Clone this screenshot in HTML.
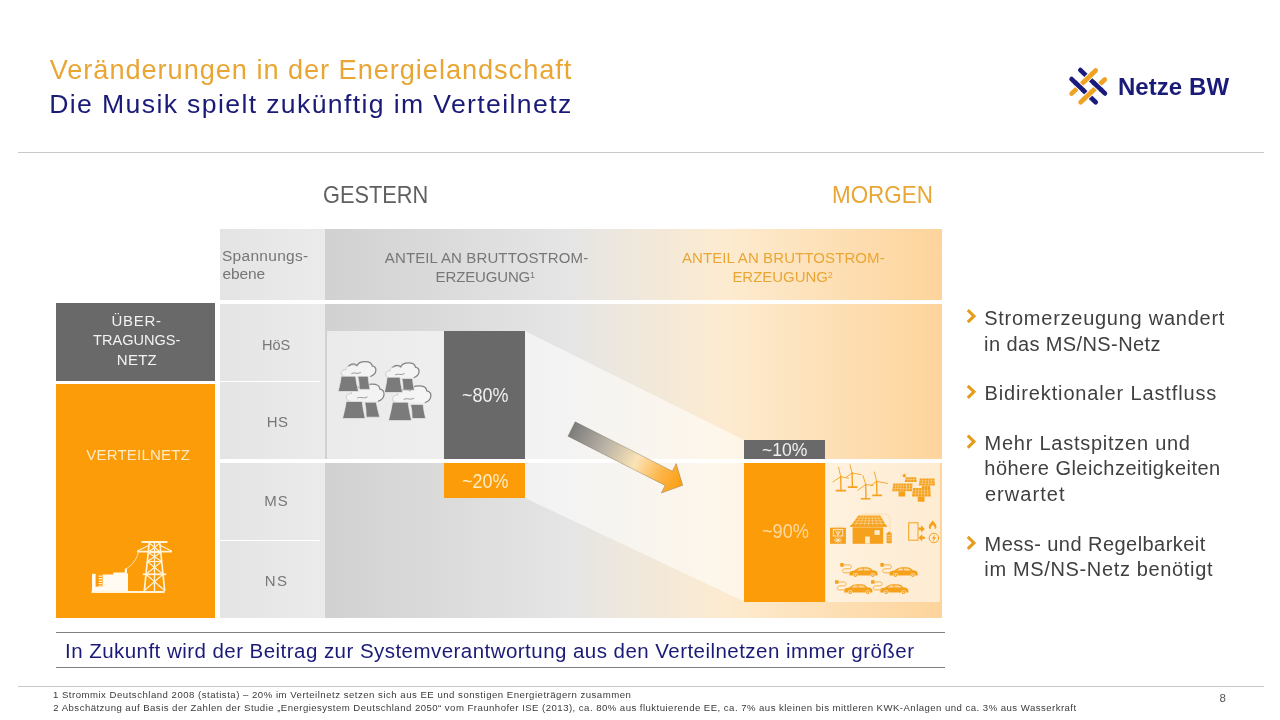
<!DOCTYPE html>
<html lang="de">
<head>
<meta charset="utf-8">
<title>Veränderungen in der Energielandschaft</title>
<style>
html,body{margin:0;padding:0;background:#fff;}
body{width:1280px;height:720px;overflow:hidden;font-family:"Liberation Sans",sans-serif;}
.slide{position:relative;width:1280px;height:720px;background:#fff;overflow:hidden;}
.slide>*{position:absolute;}
.t{white-space:nowrap;margin:0;padding:0;}
.t sup{font-size:.6em;line-height:0;vertical-align:baseline;position:relative;top:-.48em;letter-spacing:0;}
.pc{transform-origin:0 50%;}
.rule{height:1px;background:#c9c9c9;left:18px;width:1246px;}
.grad{background:linear-gradient(to right,#d1d1d1 0%,#e5e5e5 39%,#fdebd0 65%,#fdd49b 100%);}
.lvl{background:linear-gradient(to right,#e4e4e4,#ebebeb);}
.dark{background:#696969;}
.org{background:#FC9C08;}
.veil{background:rgba(255,255,255,.55);}
.wl{background:#fff;}
.sline{height:1px;background:#808080;left:56px;width:888.5px;}
svg{overflow:visible;}

</style>
</head>
<body>
<div class="slide">
<div class="rule" style="top:152px"></div>
<div class="rule" style="top:685.5px"></div>

<!-- header row -->
<div class="lvl" style="left:220px;top:229px;width:105px;height:70.5px"></div>
<div class="grad" style="left:325px;top:229px;width:617px;height:70.5px"></div>

<!-- body rows -->
<div class="lvl" style="left:220px;top:304px;width:105px;height:314px"></div>
<div class="grad" style="left:325px;top:304px;width:617px;height:313.5px"></div>

<!-- light veils -->
<div class="veil" style="left:327px;top:331px;width:198px;height:127.5px"></div>
<svg width="1280" height="720" viewBox="0 0 1280 720" style="left:0;top:0">
  <polygon points="525,331 744,440 744,601.5 525,498" fill="rgba(255,255,255,.55)"/>
</svg>
<div class="veil" style="left:825.5px;top:462.5px;width:114.5px;height:139px"></div>

<!-- row separators -->
<div class="wl" style="left:220px;top:381px;width:100px;height:1px"></div>
<div class="wl" style="left:220px;top:458.6px;width:722px;height:4.2px"></div>
<div class="wl" style="left:220px;top:540px;width:100px;height:1px"></div>

<!-- bars -->
<div class="dark" style="left:444px;top:331px;width:81px;height:127.6px"></div>
<div class="org" style="left:444px;top:463px;width:81px;height:35px"></div>
<div class="dark" style="left:744px;top:440px;width:80.75px;height:18.6px"></div>
<div class="org" style="left:744px;top:462.6px;width:80.5px;height:139px"></div>

<!-- left boxes -->
<div class="dark" style="left:56px;top:303px;width:158.75px;height:77.5px"></div>
<div class="org" style="left:56px;top:383.75px;width:158.75px;height:234.25px"></div>

<!-- statement lines -->
<div class="sline" style="top:632px"></div>
<div class="sline" style="top:667px"></div>

<!-- bullet chevrons -->
<svg width="1280" height="720" viewBox="0 0 1280 720" style="left:0;top:0">
  <g fill="none" stroke="#E39C1C" stroke-width="3" stroke-linejoin="miter">
    <polyline points="967.8,310.2 974,316.2 967.8,322.2"/>
    <polyline points="967.8,385.8 974,391.8 967.8,397.8"/>
    <polyline points="967.8,435.6 974,441.6 967.8,447.6"/>
    <polyline points="967.8,536.9 974,542.9 967.8,548.9"/>
  </g>
</svg>

<!-- logo mark -->
<svg width="1280" height="720" viewBox="0 0 1280 720" style="left:0;top:0">
  <g fill="none" stroke-width="4.7" stroke-linecap="round">
    <line x1="1080.4" y1="70.1" x2="1104.9" y2="93.4" stroke="#1A1A7E"/>
    <line x1="1071.6" y1="79.1" x2="1095.7" y2="102.2" stroke="#1A1A7E"/>
    <line x1="1095.7" y1="70.5" x2="1071.6" y2="93.6" stroke="#EFA325"/>
    <line x1="1104.8" y1="79.5" x2="1080.6" y2="102.2" stroke="#EFA325"/>
  </g>
  <g fill="none" stroke-linecap="butt">
    <!-- top: orange A over -->
    <line x1="1091.3" y1="74.7" x2="1085.3" y2="80.5" stroke="#fff" stroke-width="6.6"/>
    <line x1="1092.6" y1="73.5" x2="1084" y2="81.7" stroke="#EFA325" stroke-width="4.7"/>
    <!-- right: navy1 over -->
    <line x1="1094.5" y1="83.5" x2="1100.5" y2="89.2" stroke="#fff" stroke-width="6.6"/>
    <line x1="1093.2" y1="82.3" x2="1101.8" y2="90.4" stroke="#1A1A7E" stroke-width="4.7"/>
    <!-- left: navy2 over -->
    <line x1="1076.2" y1="83.5" x2="1082.2" y2="89.2" stroke="#fff" stroke-width="6.6"/>
    <line x1="1074.9" y1="82.3" x2="1083.5" y2="90.4" stroke="#1A1A7E" stroke-width="4.7"/>
    <!-- bottom: orange B over -->
    <line x1="1091.2" y1="92.2" x2="1085.2" y2="97.9" stroke="#fff" stroke-width="6.6"/>
    <line x1="1092.5" y1="91" x2="1083.9" y2="99.1" stroke="#EFA325" stroke-width="4.7"/>
  </g>
</svg>

<!-- transition arrow -->
<svg width="1280" height="720" viewBox="0 0 1280 720" style="left:0;top:0">
  <defs>
    <linearGradient id="ag" x1="0" y1="0" x2="124.6" y2="0" gradientUnits="userSpaceOnUse">
      <stop offset="0" stop-color="#7c7c7c"/>
      <stop offset=".3" stop-color="#b9b2a6"/>
      <stop offset=".58" stop-color="#fbe3b6"/>
      <stop offset=".8" stop-color="#fdb548"/>
      <stop offset="1" stop-color="#fb9d0e"/>
    </linearGradient>
  </defs>
  <g transform="translate(571.6 429) rotate(26.9)">
    <polygon points="0,-8 108.9,-8 108.9,-16.5 124.6,0 108.9,16.5 108.9,8 0,8" fill="url(#ag)" stroke="rgba(110,95,70,.45)" stroke-width=".7"/>
  </g>
</svg>
<!-- conventional power plants -->
<svg width="1280" height="720" viewBox="0 0 1280 720" style="left:0;top:0">
<g>
<path d="M350.0,401.2 C344.8,401.2 344.8,392.7 351.5,393.6 C350.8,389.1 357.5,386.2 363.5,388.7 C365.8,382.7 379.2,382.3 380.0,389.1 C385.6,390.2 385.6,398.4 378.5,401.2Z" fill="rgba(255,255,255,.4)"/><path d="M350.0,401.2 C344.8,401.2 344.8,392.7 351.5,393.6 C350.8,389.1 357.5,386.2 362.8,389.1" fill="none" stroke="#c4c4c4" stroke-width=".8" stroke-linecap="round"/><path d="M354.5,389.1 C357.5,386.2 361.2,386.6 363.5,388.7 C365.8,382.7 379.2,382.3 380.0,389.1 C385.6,390.2 385.6,398.4 378.5,401.2" fill="none" stroke="#858585" stroke-width="1.3" stroke-linecap="round"/><path d="M357.5,398.0 C360.5,395.9 363.5,399.5 367.2,397.0" fill="none" stroke="#8f8f8f" stroke-width=".9" stroke-linecap="round"/>
<g fill="#7b7b7b" stroke="#ececec" stroke-width=".7">
<path d="M364.8,402.2 L376.2,402.2 Q377.3,408.2 379.8,417.2 L366.2,417.2 Q366.2,408.2 364.8,402.2Z"/>
<path d="M346.2,401.5 L362.2,401.5 Q362.8,408.3 365.2,418.5 L342.5,418.5 Q345.3,408.3 346.2,401.5Z"/>
</g></g>
<g>
<path d="M396.3,402.5 C391.0,402.5 391.0,394.2 397.8,395.1 C397.1,390.8 403.9,388.0 410.0,390.4 C412.3,384.6 426.0,384.2 426.8,390.8 C432.5,391.8 432.5,399.7 425.3,402.5Z" fill="rgba(255,255,255,.4)"/><path d="M396.3,402.5 C391.0,402.5 391.0,394.2 397.8,395.1 C397.1,390.8 403.9,388.0 409.3,390.8" fill="none" stroke="#c4c4c4" stroke-width=".8" stroke-linecap="round"/><path d="M400.9,390.8 C403.9,388.0 407.7,388.4 410.0,390.4 C412.3,384.6 426.0,384.2 426.8,390.8 C432.5,391.8 432.5,399.7 425.3,402.5" fill="none" stroke="#858585" stroke-width="1.3" stroke-linecap="round"/><path d="M403.9,399.4 C407.0,397.3 410.0,400.7 413.8,398.3" fill="none" stroke="#8f8f8f" stroke-width=".9" stroke-linecap="round"/>
<g fill="#7b7b7b" stroke="#ececec" stroke-width=".7">
<path d="M410.6,404.4 L423.1,404.4 Q423.6,410.0 425.6,418.5 L412.1,418.5 Q412.1,410.0 410.6,404.4Z"/>
<path d="M392.5,402.2 L408.1,402.2 Q408.9,409.6 411.6,420.6 L388.5,420.6 Q391.4,409.6 392.5,402.2Z"/>
</g></g>
<g>
<path d="M344.7,376.3 C339.9,376.3 339.9,368.9 346.1,369.7 C345.4,365.9 351.6,363.4 357.1,365.5 C359.1,360.3 371.5,360.0 372.2,365.9 C377.3,366.8 377.3,373.8 370.8,376.3Z" fill="rgba(255,255,255,.4)"/><path d="M344.7,376.3 C339.9,376.3 339.9,368.9 346.1,369.7 C345.4,365.9 351.6,363.4 356.4,365.9" fill="none" stroke="#c4c4c4" stroke-width=".8" stroke-linecap="round"/><path d="M348.8,365.9 C351.6,363.4 355.0,363.7 357.1,365.5 C359.1,360.3 371.5,360.0 372.2,365.9 C377.3,366.8 377.3,373.8 370.8,376.3" fill="none" stroke="#858585" stroke-width="1.3" stroke-linecap="round"/><path d="M351.6,373.5 C354.3,371.7 357.1,374.8 360.5,372.6" fill="none" stroke="#8f8f8f" stroke-width=".9" stroke-linecap="round"/>
<g fill="#7b7b7b" stroke="#ececec" stroke-width=".7">
<path d="M357.8,376.2 L368.1,376.2 Q368.4,381.5 370.0,389.4 L359.4,389.4 Q359.2,381.5 357.8,376.2Z"/>
<path d="M341.2,376.2 L355.6,376.2 Q356.2,382.4 358.5,391.5 L338.1,391.5 Q340.5,382.4 341.2,376.2Z"/>
</g></g>
<g>
<path d="M388.9,377.5 C384.3,377.5 384.3,370.1 390.2,370.9 C389.6,367.1 395.5,364.6 400.8,366.8 C402.8,361.6 414.8,361.3 415.4,367.1 C420.4,368.0 420.4,375.0 414.1,377.5Z" fill="rgba(255,255,255,.4)"/><path d="M388.9,377.5 C384.3,377.5 384.3,370.1 390.2,370.9 C389.6,367.1 395.5,364.6 400.2,367.1" fill="none" stroke="#c4c4c4" stroke-width=".8" stroke-linecap="round"/><path d="M392.9,367.1 C395.5,364.6 398.9,364.9 400.8,366.8 C402.8,361.6 414.8,361.3 415.4,367.1 C420.4,368.0 420.4,375.0 414.1,377.5" fill="none" stroke="#858585" stroke-width="1.3" stroke-linecap="round"/><path d="M395.5,374.7 C398.2,372.9 400.8,376.0 404.2,373.8" fill="none" stroke="#8f8f8f" stroke-width=".9" stroke-linecap="round"/>
<g fill="#7b7b7b" stroke="#ececec" stroke-width=".7">
<path d="M401.9,378.5 L412.5,378.5 Q412.8,383.2 414.4,390.2 L403.1,390.2 Q403.1,383.2 401.9,378.5Z"/>
<path d="M387.1,377.2 L400.0,377.2 Q400.5,383.4 402.5,392.5 L384.4,392.5 Q386.5,383.4 387.1,377.2Z"/>
</g></g>
</svg>
<!-- grid icon: transformer station and pylon -->
<svg width="1280" height="720" viewBox="0 0 1280 720" style="left:0;top:0">
<g fill="none" stroke="#FFF3D9" stroke-linecap="butt">
<line x1="91.5" y1="592" x2="164.6" y2="592" stroke-width="2"/>
<g stroke-width="1.7">
<line x1="149.4" y1="541" x2="144.3" y2="591"/>
<line x1="159.6" y1="541" x2="164.7" y2="591"/>
<line x1="154.5" y1="543" x2="154.5" y2="591" stroke-width="1.3"/>
</g>
<line x1="141.5" y1="542" x2="167.5" y2="542" stroke-width="2"/>
<line x1="137" y1="551.7" x2="172" y2="551.7" stroke-width="1.8"/>
<polyline points="137.5,551 148.6,545.5" stroke-width="1.2"/>
<polyline points="171.5,551 160.4,545.5" stroke-width="1.2"/>
<line x1="142.8" y1="574.3" x2="166.2" y2="574.3" stroke-width="1.8"/>
<g stroke-width="1.15">
<line x1="149.2" y1="543" x2="160.8" y2="552.5"/><line x1="159.8" y1="543" x2="148.2" y2="552.5"/>
<line x1="148.2" y1="552.5" x2="161.7" y2="561.5"/><line x1="160.8" y1="552.5" x2="147.3" y2="561.5"/>
<line x1="147.3" y1="561.5" x2="163.0" y2="574.3"/><line x1="161.7" y1="561.5" x2="146.0" y2="574.3"/>
<line x1="146.0" y1="574.3" x2="164.6" y2="590.5"/><line x1="163.0" y1="574.3" x2="144.4" y2="590.5"/>
<line x1="148.2" y1="552.5" x2="160.8" y2="552.5"/>
<line x1="147.3" y1="561.5" x2="161.7" y2="561.5"/>
</g>
<path d="M126.3,568.8 C132,565 136.5,560 138.3,552.4" stroke-width=".8"/>
</g>
<g fill="#FFFBF2">
<rect x="92" y="573.8" width="3.6" height="17.4"/>
<rect x="92" y="586.6" width="12" height="4.6"/>
<path d="M102.6,574.6 L113.2,574.6 L113.2,572.4 L124.8,572.4 L124.8,568.6 L126.9,568.6 L126.9,573.6 L128,573.6 L128,591.2 L102.6,591.2Z"/>
<rect x="98.6" y="575.6" width="3.4" height="1.1"/>
<rect x="98.6" y="578.1" width="3.4" height="1.1"/>
<rect x="98.6" y="580.6" width="3.4" height="1.1"/>
<rect x="98.6" y="583.1" width="3.4" height="1.1"/>
<rect x="98.6" y="585.6" width="3.4" height="1.1"/>
</g>
</svg>
<!-- renewable / decentral generation icons -->
<svg width="1280" height="720" viewBox="0 0 1280 720" style="left:0;top:0">
<g stroke="#F5A11C" fill="none" stroke-linecap="round">
<line x1="840.7" y1="476.7" x2="841.0" y2="490.7" stroke-width="1.35"/>
<line x1="836.5" y1="490.7" x2="845.4" y2="490.7" stroke-width="1.7"/>
<line x1="840.7" y1="476.7" x2="838.6" y2="467.3" stroke-width=".9"/>
<line x1="840.7" y1="476.7" x2="848.5" y2="478.2" stroke-width=".9"/>
<line x1="840.7" y1="476.7" x2="832.9" y2="481.9" stroke-width=".9"/>
<line x1="852.1" y1="473.0" x2="852.4" y2="487.1" stroke-width="1.35"/>
<line x1="848.5" y1="487.1" x2="856.8" y2="487.1" stroke-width="1.7"/>
<line x1="852.1" y1="473.0" x2="850.0" y2="464.7" stroke-width=".9"/>
<line x1="852.1" y1="473.0" x2="861.0" y2="474.6" stroke-width=".9"/>
<line x1="852.1" y1="473.0" x2="846.4" y2="477.2" stroke-width=".9"/>
<line x1="865.7" y1="484.5" x2="866.0" y2="498.75" stroke-width="1.35"/>
<line x1="861.5" y1="498.75" x2="869.8" y2="498.75" stroke-width="1.7"/>
<line x1="865.7" y1="484.5" x2="863.0" y2="475.6" stroke-width=".9"/>
<line x1="865.7" y1="484.5" x2="873.0" y2="485.5" stroke-width=".9"/>
<line x1="865.7" y1="484.5" x2="857.9" y2="490.2" stroke-width=".9"/>
<line x1="876.6" y1="481.4" x2="876.9" y2="495.4" stroke-width="1.35"/>
<line x1="873.0" y1="495.4" x2="881.3" y2="495.4" stroke-width="1.7"/>
<line x1="876.6" y1="481.4" x2="874.5" y2="472.0" stroke-width=".9"/>
<line x1="876.6" y1="481.4" x2="887.5" y2="483.4" stroke-width=".9"/>
<line x1="876.6" y1="481.4" x2="870.9" y2="485.5" stroke-width=".9"/>
</g>
<g>
<circle cx="904.3" cy="475.7" r="1.6" fill="#F5A11C"/>
<path d="M904.3,472.9 V473.6 M901.6,475.7 H902.3 M902.3,473.7 L902.8,474.2 M906.3,473.7 L905.8,474.2" stroke="#F5A11C" stroke-width=".5" fill="none"/>
<polygon points="905.8,477.2 916.2,477.2 916.7,481.9 904.7,481.9" fill="#F5A11C"/><path d="M908.4,477.2L907.7,481.9M911.0,477.2L910.7,481.9M913.6,477.2L913.7,481.9M905.2,479.5L916.5,479.5" stroke="#FDEBD0" stroke-width=".45" fill="none" opacity=".8"/>
<polygon points="919.8,478.5 934.4,478.5 934.9,485.5 918.8,485.5" fill="#F5A11C"/><path d="M922.7,478.5L922.0,485.5M925.6,478.5L925.2,485.5M928.6,478.5L928.5,485.5M931.5,478.5L931.7,485.5M919.5,480.8L934.6,480.8M919.1,483.2L934.7,483.2" stroke="#FDEBD0" stroke-width=".45" fill="none" opacity=".8"/>
<polygon points="922.4,485.5 929.7,485.5 930.3,488.1 921.4,488.1" fill="#F5A11C"/><path d="M924.8,485.5L924.4,488.1M927.3,485.5L927.3,488.1" stroke="#FDEBD0" stroke-width=".45" fill="none" opacity=".8"/>
<polygon points="893.3,483.4 906.3,483.4 905.8,491.3 892.2,491.3" fill="#F5A11C"/><path d="M895.9,483.4L894.9,491.3M898.5,483.4L897.6,491.3M901.1,483.4L900.4,491.3M903.7,483.4L903.1,491.3M892.9,486.0L906.1,486.0M892.6,488.7L906.0,488.7" stroke="#FDEBD0" stroke-width=".45" fill="none" opacity=".8"/><rect x="898.5" y="491.3" width="6.75" height="5.2" fill="#F5A11C"/>
<polygon points="906.8,483.4 912.5,483.4 912.0,491.3 906.3,491.3" fill="#F5A11C"/><path d="M909.6,483.4L909.1,491.3M906.6,486.0L912.3,486.0M906.5,488.7L912.2,488.7" stroke="#FDEBD0" stroke-width=".45" fill="none" opacity=".8"/>
<polygon points="913.1,488.1 930.25,488.1 930.8,496.5 912.0,496.5" fill="#F5A11C"/><path d="M916.0,488.1L915.1,496.5M918.8,488.1L918.3,496.5M921.7,488.1L921.4,496.5M924.5,488.1L924.5,496.5M927.4,488.1L927.7,496.5M912.7,490.9L930.4,490.9M912.4,493.7L930.6,493.7" stroke="#FDEBD0" stroke-width=".45" fill="none" opacity=".8"/><rect x="917.75" y="496.5" width="6.75" height="5.2" fill="#F5A11C"/>
</g>
<g><rect x="830" y="527.6" width="15.9" height="16.2" fill="#F5A11C"/>
<path d="M829.6,527.4 Q838,524.6 846.3,527.4" stroke="#FDEBD0" stroke-width="1" fill="none" opacity=".7"/>
<g stroke="#FDEBD0" stroke-width=".9" fill="none"><rect x="833.3" y="529.4" width="9.4" height="6.6"/><path d="M835.5,530.5 L838,535 L840.5,530.5 M838,530.5 V535"/><path d="M834,540.2 H842 M838,537.4 V543 M835.4,538 L840.6,542.4 M840.6,538 L835.4,542.4"/></g></g>
<g>
<polygon points="858.4,515.6 880.3,515.6 886.5,526 850.6,526" fill="#F5A11C"/>
<path d="M861.1,515.6L855.1,526M863.9,515.6L859.6,526M866.6,515.6L864.1,526M869.3,515.6L868.5,526M872.1,515.6L873.0,526M874.8,515.6L877.5,526M877.6,515.6L882.0,526M856.4,518.2L881.8,518.2M854.5,520.8L883.4,520.8M852.5,523.4L884.9,523.4" stroke="#FDEBD0" stroke-width=".5" fill="none" opacity=".85"/>
<rect x="850" y="525.6" width="37" height="1.3" fill="#F5A11C"/>
<rect x="852.6" y="527.3" width="30.6" height="16.5" fill="#F5A11C"/>
<rect x="874.5" y="530.2" width="5.2" height="4.7" fill="#FDEBD0"/>
<rect x="865.1" y="536.5" width="4.7" height="7.1" fill="#FDEBD0"/>
<path d="M866,512.5 L866,514.5 M862,514 H884 Q890,514 890,520 V532" stroke="#F5A11C" stroke-width=".6" fill="none" opacity=".3"/>
</g>
<g><rect x="886.6" y="532.8" width="5.1" height="10.4" rx=".8" fill="#F5A11C"/><rect x="888" y="531.8" width="2.3" height="1.2" fill="#F5A11C"/>
<path d="M887.4,535.4 H890.9 M887.4,537.7 H890.9 M887.4,540 H890.9" stroke="#FDEBD0" stroke-width=".7" opacity=".8"/></g>
<g><rect x="908.7" y="522.8" width="9.3" height="17.4" fill="none" stroke="#F5A11C" stroke-width="1"/>
<path d="M918.6,527.6 h2.6 v-2.4 l3.6,3.7 l-3.6,3.7 v-2.4 h-2.6z" fill="#F5A11C"/>
<path d="M924.8,536.4 h-2.6 v-2.4 l-3.6,3.7 l3.6,3.7 v-2.4 h2.6z" fill="#F5A11C"/></g>
<g><path d="M932.6,520.3 C934.5,523 936.8,524.6 936.4,527 C936.2,528.4 935.3,529.1 934.6,529.2 C935.2,527.6 934.2,526.2 932.8,524.8 C931.6,526.2 930.3,527.4 930.8,529.2 C929.8,529 928.7,528 928.8,526.4 C929,524 931.4,522.8 932.6,520.3Z" fill="#F5A11C"/>
<circle cx="933.9" cy="538" r="4.7" fill="none" stroke="#F5A11C" stroke-width="1"/>
<path d="M934.9,534.4 L931.7,538.6 H933.7 L932.9,541.8 L936.2,537.3 H934.2Z" fill="#F5A11C"/></g>
<g>
<g transform="translate(849.5 567.2)"><path d="M0,8.2 V5.6 C0,4.3 1.6,3.8 4.6,3.3 L8.6,0.8 C9.8,0.2 11.5,0 13.5,0 H17.5 C19.6,0 21,0.9 22.8,2.9 C26,3.2 28.1,4.3 28.1,6.2 V8.2 H25.6 A2.3,2.3 0 0 0 21,8.2 H8.2 A2.3,2.3 0 0 0 3.6,8.2Z" fill="#F5A11C"/><circle cx="5.9" cy="8.1" r="1.7" fill="#F5A11C"/><circle cx="23.3" cy="8.1" r="1.7" fill="#F5A11C"/><circle cx="5.9" cy="8.1" r=".7" fill="#FDEBD0"/><circle cx="23.3" cy="8.1" r=".7" fill="#FDEBD0"/><path d="M7.2,3.3 L10,1.2 H13.2 V3.3Z M14.2,1.2 H17.6 C19,1.2 20.2,2 21.2,3.3 H14.2Z" fill="#FDEBD0" opacity=".75"/><path d="M-5.6,-2.3 H-0.6 C2.6,-2.3 2.6,1.6 -0.4,1.6 H-4.6 C-7.8,1.6 -7.8,5.6 -4.6,5.6 H0.2" fill="none" stroke="#F5A11C" stroke-width=".8"/><rect x="-9.3" y="-4.1" width="3.6" height="3.6" rx=".6" fill="#F5A11C"/></g>
<g transform="translate(889.6 567.2)"><path d="M0,8.2 V5.6 C0,4.3 1.6,3.8 4.6,3.3 L8.6,0.8 C9.8,0.2 11.5,0 13.5,0 H17.5 C19.6,0 21,0.9 22.8,2.9 C26,3.2 28.1,4.3 28.1,6.2 V8.2 H25.6 A2.3,2.3 0 0 0 21,8.2 H8.2 A2.3,2.3 0 0 0 3.6,8.2Z" fill="#F5A11C"/><circle cx="5.9" cy="8.1" r="1.7" fill="#F5A11C"/><circle cx="23.3" cy="8.1" r="1.7" fill="#F5A11C"/><circle cx="5.9" cy="8.1" r=".7" fill="#FDEBD0"/><circle cx="23.3" cy="8.1" r=".7" fill="#FDEBD0"/><path d="M7.2,3.3 L10,1.2 H13.2 V3.3Z M14.2,1.2 H17.6 C19,1.2 20.2,2 21.2,3.3 H14.2Z" fill="#FDEBD0" opacity=".75"/><path d="M-5.6,-2.3 H-0.6 C2.6,-2.3 2.6,1.6 -0.4,1.6 H-4.6 C-7.8,1.6 -7.8,5.6 -4.6,5.6 H0.2" fill="none" stroke="#F5A11C" stroke-width=".8"/><rect x="-9.3" y="-4.1" width="3.6" height="3.6" rx=".6" fill="#F5A11C"/></g>
<g transform="translate(844.3 584.3)"><path d="M0,8.2 V5.6 C0,4.3 1.6,3.8 4.6,3.3 L8.6,0.8 C9.8,0.2 11.5,0 13.5,0 H17.5 C19.6,0 21,0.9 22.8,2.9 C26,3.2 28.1,4.3 28.1,6.2 V8.2 H25.6 A2.3,2.3 0 0 0 21,8.2 H8.2 A2.3,2.3 0 0 0 3.6,8.2Z" fill="#F5A11C"/><circle cx="5.9" cy="8.1" r="1.7" fill="#F5A11C"/><circle cx="23.3" cy="8.1" r="1.7" fill="#F5A11C"/><circle cx="5.9" cy="8.1" r=".7" fill="#FDEBD0"/><circle cx="23.3" cy="8.1" r=".7" fill="#FDEBD0"/><path d="M7.2,3.3 L10,1.2 H13.2 V3.3Z M14.2,1.2 H17.6 C19,1.2 20.2,2 21.2,3.3 H14.2Z" fill="#FDEBD0" opacity=".75"/><path d="M-5.6,-2.3 H-0.6 C2.6,-2.3 2.6,1.6 -0.4,1.6 H-4.6 C-7.8,1.6 -7.8,5.6 -4.6,5.6 H0.2" fill="none" stroke="#F5A11C" stroke-width=".8"/><rect x="-9.3" y="-4.1" width="3.6" height="3.6" rx=".6" fill="#F5A11C"/></g>
<g transform="translate(880.3 584.3)"><path d="M0,8.2 V5.6 C0,4.3 1.6,3.8 4.6,3.3 L8.6,0.8 C9.8,0.2 11.5,0 13.5,0 H17.5 C19.6,0 21,0.9 22.8,2.9 C26,3.2 28.1,4.3 28.1,6.2 V8.2 H25.6 A2.3,2.3 0 0 0 21,8.2 H8.2 A2.3,2.3 0 0 0 3.6,8.2Z" fill="#F5A11C"/><circle cx="5.9" cy="8.1" r="1.7" fill="#F5A11C"/><circle cx="23.3" cy="8.1" r="1.7" fill="#F5A11C"/><circle cx="5.9" cy="8.1" r=".7" fill="#FDEBD0"/><circle cx="23.3" cy="8.1" r=".7" fill="#FDEBD0"/><path d="M7.2,3.3 L10,1.2 H13.2 V3.3Z M14.2,1.2 H17.6 C19,1.2 20.2,2 21.2,3.3 H14.2Z" fill="#FDEBD0" opacity=".75"/><path d="M-5.6,-2.3 H-0.6 C2.6,-2.3 2.6,1.6 -0.4,1.6 H-4.6 C-7.8,1.6 -7.8,5.6 -4.6,5.6 H0.2" fill="none" stroke="#F5A11C" stroke-width=".8"/><rect x="-9.3" y="-4.1" width="3.6" height="3.6" rx=".6" fill="#F5A11C"/></g>
</g>
</svg>

<div class="t" style="left:49.72px;top:55.73px;font-size:27.2px;line-height:27.2px;color:#E9A634;letter-spacing:0.943px;">Veränderungen in der Energielandschaft</div>
<div class="t" style="left:49.28px;top:91.23px;font-size:26.6px;line-height:26.6px;color:#1A1A78;letter-spacing:1.372px;">Die Musik spielt zukünftig im Verteilnetz</div>
<div class="t" style="left:1117.90px;top:74.98px;font-size:24px;line-height:24px;color:#1A1A78;letter-spacing:0.070px;font-weight:700;">Netze BW</div>
<div class="t" style="left:323.08px;top:182.68px;font-size:24px;line-height:24px;color:#606060;transform:scaleX(0.9075);transform-origin:0 50%;">GESTERN</div>
<div class="t" style="left:832.30px;top:182.68px;font-size:24px;line-height:24px;color:#E9A634;transform:scaleX(0.9343);transform-origin:0 50%;">MORGEN</div>
<div class="t" style="left:221.99px;top:247.63px;font-size:15.5px;line-height:15.5px;color:#767676;letter-spacing:0.285px;">Spannungs-</div>
<div class="t" style="left:222.55px;top:265.63px;font-size:15.5px;line-height:15.5px;color:#767676;letter-spacing:-0.144px;">ebene</div>
<div class="t" style="left:384.80px;top:250.30px;font-size:15px;line-height:15px;color:#777777;letter-spacing:0.122px;">ANTEIL AN BRUTTOSTROM-</div>
<div class="t" style="left:435.62px;top:269.30px;font-size:15px;line-height:15px;color:#777777;letter-spacing:-0.153px;">ERZEUGUNG<sup>1</sup></div>
<div class="t" style="left:681.89px;top:250.30px;font-size:15px;line-height:15px;color:#E9A634;letter-spacing:0.094px;">ANTEIL AN BRUTTOSTROM-</div>
<div class="t" style="left:732.39px;top:269.30px;font-size:15px;line-height:15px;color:#E9A634;letter-spacing:-0.042px;">ERZEUGUNG<sup>2</sup></div>
<div class="t" style="left:111.51px;top:313.05px;font-size:15px;line-height:15px;color:#f2f2f2;letter-spacing:0.708px;">ÜBER-</div>
<div class="t" style="left:92.53px;top:332.30px;font-size:15px;line-height:15px;color:#f2f2f2;transform:scaleX(0.9710);transform-origin:0 50%;">TRAGUNGS-</div>
<div class="t" style="left:116.80px;top:351.55px;font-size:15px;line-height:15px;color:#f2f2f2;letter-spacing:0.254px;">NETZ</div>
<div class="t" style="left:86.17px;top:447.30px;font-size:15px;line-height:15px;color:#FDEBC4;letter-spacing:0.231px;">VERTEILNETZ</div>
<div class="t" style="left:261.99px;top:336.55px;font-size:15px;line-height:15px;color:#777777;transform:scaleX(0.9701);transform-origin:0 50%;">HöS</div>
<div class="t" style="left:266.72px;top:414.30px;font-size:15px;line-height:15px;color:#777777;letter-spacing:0.353px;">HS</div>
<div class="t" style="left:264.37px;top:493.05px;font-size:15px;line-height:15px;color:#777777;letter-spacing:0.905px;">MS</div>
<div class="t" style="left:264.66px;top:573.05px;font-size:15px;line-height:15px;color:#777777;letter-spacing:1.528px;">NS</div>
<div class="t pc" style="left:461.53px;top:385.02px;font-size:20.3px;line-height:20.3px;color:#f0f0f0;transform:scaleX(0.8858);transform-origin:0 50%;">~80%</div>
<div class="t pc" style="left:461.53px;top:471.07px;font-size:20px;line-height:20px;color:#FDEBC4;transform:scaleX(0.8973);transform-origin:0 50%;">~20%</div>
<div class="t pc" style="left:762.19px;top:439.92px;font-size:19px;line-height:19px;color:#f0f0f0;transform:scaleX(0.9254);transform-origin:0 50%;">~10%</div>
<div class="t pc" style="left:761.58px;top:521.17px;font-size:20px;line-height:20px;color:#FDD9A0;transform:scaleX(0.9096);transform-origin:0 50%;">~90%</div>
<div class="t" style="left:984.22px;top:307.57px;font-size:20px;line-height:20px;color:#404040;letter-spacing:0.742px;">Stromerzeugung wandert</div>
<div class="t" style="left:984.09px;top:333.57px;font-size:20px;line-height:20px;color:#404040;letter-spacing:0.396px;">in das MS/NS-Netz</div>
<div class="t" style="left:984.60px;top:382.57px;font-size:20px;line-height:20px;color:#404040;letter-spacing:0.852px;">Bidirektionaler Lastfluss</div>
<div class="t" style="left:984.60px;top:432.57px;font-size:20px;line-height:20px;color:#404040;letter-spacing:0.746px;">Mehr Lastspitzen und</div>
<div class="t" style="left:984.34px;top:458.07px;font-size:20px;line-height:20px;color:#404040;letter-spacing:0.467px;">höhere Gleichzeitigkeiten</div>
<div class="t" style="left:984.89px;top:483.67px;font-size:20px;line-height:20px;color:#404040;letter-spacing:1.054px;">erwartet</div>
<div class="t" style="left:984.60px;top:533.57px;font-size:20px;line-height:20px;color:#404040;letter-spacing:0.450px;">Mess- und Regelbarkeit</div>
<div class="t" style="left:984.34px;top:558.87px;font-size:20px;line-height:20px;color:#404040;letter-spacing:0.649px;">im MS/NS-Netz benötigt</div>
<div class="t" style="left:65.00px;top:640.85px;font-size:20.5px;line-height:20.5px;color:#1A1A78;letter-spacing:0.457px;">In Zukunft wird der Beitrag zur Systemverantwortung aus den Verteilnetzen immer größer</div>
<div class="t" style="left:52.92px;top:690.07px;font-size:9.6px;line-height:9.6px;color:#3a3a3a;letter-spacing:0.500px;">1 Strommix Deutschland 2008 (statista) – 20% im Verteilnetz setzen sich aus EE und sonstigen Energieträgern zusammen</div>
<div class="t" style="left:53.33px;top:703.27px;font-size:9.6px;line-height:9.6px;color:#3a3a3a;letter-spacing:0.460px;">2 Abschätzung auf Basis der Zahlen der Studie „Energiesystem Deutschland 2050“ vom Fraunhofer ISE (2013), ca. 80% aus fluktuierende EE, ca. 7% aus kleinen bis mittleren KWK-Anlagen und ca. 3% aus Wasserkraft</div>
<div class="t" style="left:1219.43px;top:692.77px;font-size:11.5px;line-height:11.5px;color:#555555;letter-spacing:0.000px;">8</div>
</div>
</body>
</html>
